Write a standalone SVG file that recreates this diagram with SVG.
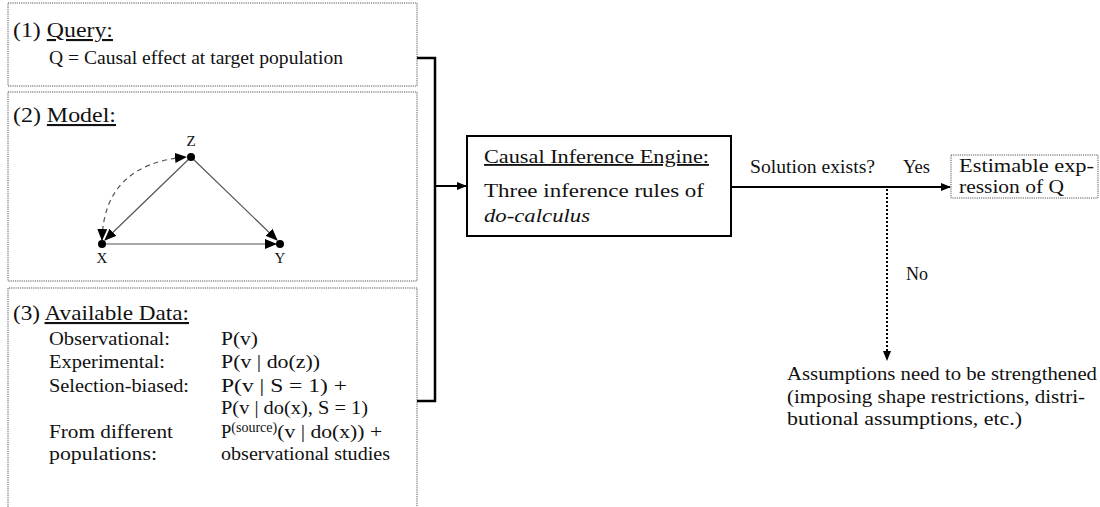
<svg xmlns="http://www.w3.org/2000/svg" width="1100" height="507" viewBox="0 0 1100 507">
<style>
text{font-family:"Liberation Serif","DejaVu Serif",serif;fill:#111;}
.t{font-size:18.5px;}
.h{font-size:21px;}
.s{font-size:15px;}
.u{text-decoration:underline;}
.dot{fill:none;stroke:#555;stroke-width:1;stroke-dasharray:1.2 1;}
.thick{fill:none;stroke:#000;stroke-width:2.5;}
.edge{fill:none;stroke:#555;stroke-width:1.2;}
</style>
<defs>
<marker id="ah" markerWidth="10" markerHeight="8" refX="9" refY="4" orient="auto" markerUnits="userSpaceOnUse"><path d="M0,0 L10,4 L0,8 Z" fill="#000"/></marker>
<marker id="ah2" markerWidth="12" markerHeight="10" refX="11" refY="5" orient="auto" markerUnits="userSpaceOnUse"><path d="M0,0 L12,5 L0,10 Z" fill="#000"/></marker>
<marker id="ahs" markerWidth="12" markerHeight="10" refX="1" refY="5" orient="auto" markerUnits="userSpaceOnUse"><path d="M12,0 L0,5 L12,10 Z" fill="#000"/></marker>
</defs>

<g id="query">
<rect class="dot" x="8" y="3" width="409" height="83"/>
<text class="h" x="13" y="37" textLength="100" lengthAdjust="spacingAndGlyphs">(1) <tspan class="u">Query:</tspan></text>
<text class="t" x="49" y="64" textLength="294" lengthAdjust="spacingAndGlyphs">Q = Causal effect at target population</text>
</g>

<g id="model">
<rect class="dot" x="8" y="92" width="409" height="189"/>
<text class="h" x="13" y="122" textLength="103" lengthAdjust="spacingAndGlyphs">(2) <tspan class="u">Model:</tspan></text>
<g id="graph">
<path class="edge" d="M191,157 L105,240" marker-end="url(#ah2)"/>
<path class="edge" d="M191,157 L277,240" marker-end="url(#ah2)"/>
<path class="edge" d="M102,244 L276,244" marker-end="url(#ah2)"/>
<path class="edge" d="M102,240 Q104,164 186,157" stroke-dasharray="5 4" marker-start="url(#ahs)" marker-end="url(#ah2)"/>
<circle cx="191" cy="157" r="4" fill="#000"/>
<circle cx="102" cy="244" r="4" fill="#000"/>
<circle cx="280" cy="244" r="4" fill="#000"/>
<text class="s" x="191" y="146" text-anchor="middle">Z</text>
<text class="s" x="102" y="263" text-anchor="middle">X</text>
<text class="s" x="280" y="263" text-anchor="middle">Y</text>
</g>
</g>

<g id="data">
<path class="dot" d="M8,507 L8,288 L417,288 L417,507"/>
<text class="h" x="13" y="320" textLength="176" lengthAdjust="spacingAndGlyphs">(3) <tspan class="u">Available Data:</tspan></text>
<text class="t" x="49" y="345" textLength="121" lengthAdjust="spacingAndGlyphs">Observational:</text>
<text class="t" x="221" y="345" textLength="37" lengthAdjust="spacingAndGlyphs">P(v)</text>
<text class="t" x="49" y="368" textLength="116" lengthAdjust="spacingAndGlyphs">Experimental:</text>
<text class="t" x="221" y="368" textLength="99" lengthAdjust="spacingAndGlyphs">P(v | do(z))</text>
<text class="t" x="49" y="392" textLength="140" lengthAdjust="spacingAndGlyphs">Selection-biased:</text>
<text class="t" x="221" y="392" textLength="126" lengthAdjust="spacingAndGlyphs">P(v | S = 1) +</text>
<text class="t" x="221" y="414" textLength="147" lengthAdjust="spacingAndGlyphs">P(v | do(x), S = 1)</text>
<text class="t" x="49" y="438" textLength="124" lengthAdjust="spacingAndGlyphs">From different</text>
<text class="t" x="221" y="438">P<tspan font-size="14" dy="-6">(source)</tspan><tspan dy="6" textLength="105" lengthAdjust="spacingAndGlyphs">(v | do(x)) +</tspan></text>
<text class="t" x="49" y="460" textLength="108" lengthAdjust="spacingAndGlyphs">populations:</text>
<text class="t" x="221" y="460" textLength="169" lengthAdjust="spacingAndGlyphs">observational studies</text>
</g>

<g id="engine">
<rect x="467" y="136" width="264" height="100" fill="#fff" stroke="#000" stroke-width="2"/>
<text class="t" x="484" y="163" textLength="225" lengthAdjust="spacingAndGlyphs"><tspan class="u">Causal Inference Engine:</tspan></text>
<text class="t" x="484" y="197" textLength="220" lengthAdjust="spacingAndGlyphs">Three inference rules of</text>
<text class="t" x="484" y="222" font-style="italic" textLength="106" lengthAdjust="spacingAndGlyphs">do-calculus</text>
</g>

<g id="estimable">
<rect class="dot" x="951" y="155" width="147" height="43"/>
<text class="t" x="959" y="172" textLength="135" lengthAdjust="spacingAndGlyphs">Estimable exp-</text>
<text class="t" x="959" y="193" textLength="105" lengthAdjust="spacingAndGlyphs">ression of Q</text>
</g>

<g id="assumptions">
<text class="t" x="787" y="380" textLength="310" lengthAdjust="spacingAndGlyphs">Assumptions need to be strengthened</text>
<text class="t" x="787" y="403" textLength="298" lengthAdjust="spacingAndGlyphs">(imposing shape restrictions, distri-</text>
<text class="t" x="787" y="425" textLength="235" lengthAdjust="spacingAndGlyphs">butional assumptions, etc.)</text>
</g>

<g id="connectors">
<path class="thick" d="M417,58 L435,58 L435,401 L417,401"/>
<path d="M435,186 L466,186" stroke="#000" stroke-width="2" fill="none" marker-end="url(#ah)"/>
<path d="M732,187 L950,187" stroke="#000" stroke-width="2" fill="none" marker-end="url(#ah)"/>
<path d="M887,189 L887,360" stroke="#000" stroke-width="2" stroke-dasharray="2 2" fill="none" marker-end="url(#ah)"/>
<text class="t" x="750" y="173" textLength="125" lengthAdjust="spacingAndGlyphs">Solution exists?</text>
<text class="t" x="903" y="173" textLength="27" lengthAdjust="spacingAndGlyphs">Yes</text>
<text class="t" x="906" y="280" textLength="22" lengthAdjust="spacingAndGlyphs">No</text>
</g>
</svg>
